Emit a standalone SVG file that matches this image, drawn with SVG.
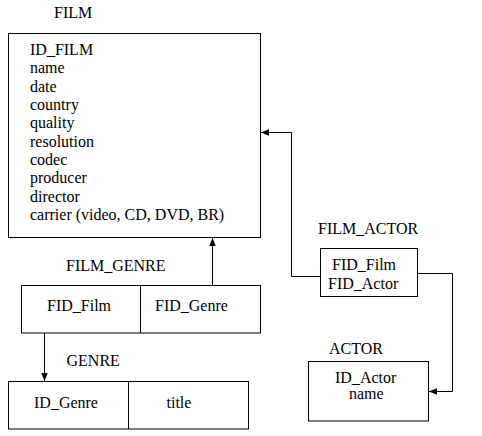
<svg xmlns="http://www.w3.org/2000/svg" width="482" height="436" viewBox="0 0 482 436">
<defs>
<style>
.box{fill:#fff;stroke:#000;stroke-width:1}
.conn{fill:none;stroke:#000;stroke-width:1}
</style>
<marker id="arr" viewBox="0 0 8 8" refX="8" refY="4" markerWidth="8" markerHeight="8" markerUnits="userSpaceOnUse" orient="auto">
<path d="M0,0.8 L8,4 L0,7.2 Z" fill="#000"/>
</marker>
</defs>
<rect width="482" height="436" fill="#fff"/>
<g font-family="'Liberation Serif', 'DejaVu Serif', serif" font-size="16" fill="#000">
<g id="film">
<text x="54" y="18">FILM</text>
<rect class="box" x="8.5" y="33.5" width="252" height="204"/>
<text x="30" y="55">ID_FILM</text>
<text x="30" y="73.3">name</text>
<text x="30" y="91.7">date</text>
<text x="30" y="110">country</text>
<text x="30" y="128.3">quality</text>
<text x="30" y="146.7">resolution</text>
<text x="30" y="165">codec</text>
<text x="30" y="183.3">producer</text>
<text x="30" y="201.7">director</text>
<text x="30" y="220">carrier (video, CD, DVD, BR)</text>
</g>
<g id="film_genre">
<text x="66" y="271">FILM_GENRE</text>
<rect class="box" x="21.5" y="285.5" width="239" height="47.5"/>
<line class="conn" x1="140.5" y1="285.5" x2="140.5" y2="333"/>
<text x="47" y="311">FID_Film</text>
<text x="155" y="311">FID_Genre</text>
</g>
<g id="genre">
<text x="66.5" y="366">GENRE</text>
<rect class="box" x="8.5" y="381.5" width="240" height="47.5"/>
<line class="conn" x1="128.5" y1="381.5" x2="128.5" y2="429"/>
<text x="34" y="407.5">ID_Genre</text>
<text x="166.5" y="407.5">title</text>
</g>
<g id="film_actor">
<text x="318" y="233.5">FILM_ACTOR</text>
<rect class="box" x="320.5" y="248.5" width="97" height="48"/>
<text x="332" y="269.5">FID_Film</text>
<text x="328" y="288.5">FID_Actor</text>
</g>
<g id="actor">
<text x="329" y="353.5">ACTOR</text>
<rect class="box" x="308.5" y="361.5" width="120" height="59.5"/>
<text x="335" y="383">ID_Actor</text>
<text x="349" y="399">name</text>
</g>
</g>
<g id="connectors">
<polyline class="conn" points="212.5,285.5 212.5,238" marker-end="url(#arr)"/>
<polyline class="conn" points="320.5,276.5 291.5,276.5 291.5,132.5 261,132.5" marker-end="url(#arr)"/>
<polyline class="conn" points="44.5,333 44.5,381" marker-end="url(#arr)"/>
<polyline class="conn" points="417.5,273.5 452.5,273.5 452.5,391.5 429,391.5" marker-end="url(#arr)"/>
</g>
</svg>
